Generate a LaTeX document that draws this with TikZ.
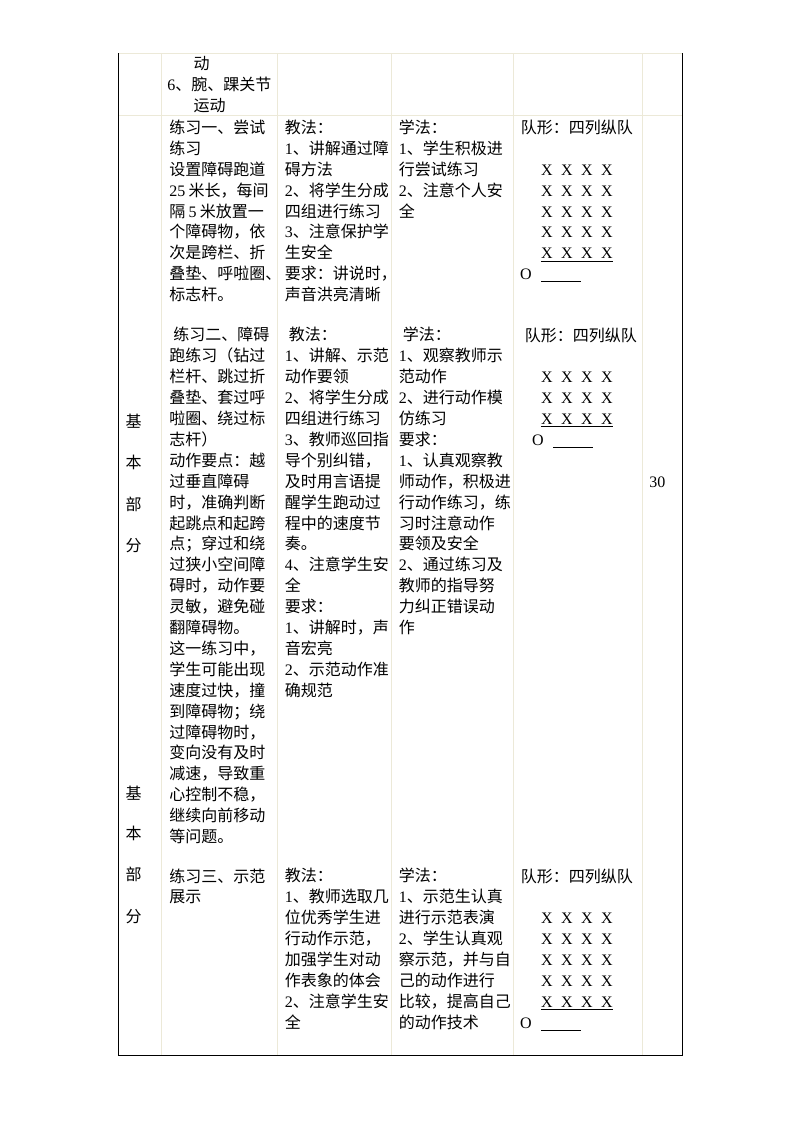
\documentclass[tikz,border=0pt]{standalone}
\usepackage{fontspec}
\setmainfont{Noto Sans CJK SC}
\newfontfamily\tnr{Liberation Serif}
\newcommand\tn[1]{{\tnr #1}}
\definecolor{gridline}{RGB}{236,233,216}
\tikzset{
  cell/.style={anchor=base west,inner sep=0pt,align=left,font=\fontsize{12}{15.68}\selectfont},
  man/.style={anchor=base,inner sep=0pt,font=\tnr\fontsize{12}{15.68}\selectfont},
  grid rule/.style={draw=gridline,line width=0.75pt},
  border rule/.style={draw=black,line width=0.75pt},
  mark line/.style={draw=black,line width=0.6pt},
}
\begin{document}
\begin{tikzpicture}[x=0.75pt,y=-0.75pt]
		\useasboundingbox (0,0) rectangle (794,1123);
		% table rules
		\draw[grid rule] (118,53.5)--(682,53.5) (118,116)--(682,116);
		\foreach \xx in {161.5,277.5,391.5,513,642.5}{\draw[grid rule] (\xx,53.5)--(\xx,1055);}
		\draw[border rule] (118,53.5)--(118,1055)--(682,1055)--(682,53.5);
		% first column
		\foreach \ch/\yy [count=\i] in {基/427.7,本/468.7,部/510,分/551,基/799.3,本/839.3,部/880,分/922}
			{\node[cell,anchor=base] (part-\i) at (133.5,\yy) {\ch};}
		% multi-line cells are placed by the baseline of their last line
		% warm-up tail
		\node[cell] (warmup) at (167,{69.5+2*20.9}) {\hspace*{19.7pt}动\\\tn{6}、腕、踝关节\\\hspace*{19.7pt}运动};
		% exercise one
		\node[cell] (ex1) at (169,{133.5+8*20.9}) {练习一、尝试\\练习\\设置障碍跑道\\\tn{25}\hspace{2.5pt}米长，每间\\隔\hspace{2.5pt}\tn{5}\hspace{2.5pt}米放置一\\个障碍物，依\\次是跨栏、折\\叠垫、呼啦圈、\\标志杆。};
		\node[cell] (teach1) at (284.5,{133.5+8*20.9}) {教法：\\\tn{1}、讲解通过障\\碍方法\\\tn{2}、将学生分成\\四组进行练习\\\tn{3}、注意保护学\\生安全\\要求：讲说时，\\声音洪亮清晰};
		\node[cell] (learn1) at (398.5,{133.5+4*20.9}) {学法：\\\tn{1}、学生积极进\\行尝试练习\\\tn{2}、注意个人安\\全};
		\node[cell] (form1) at (520.5,133.5) {队形：四列纵队};
		% exercise two
		\node[cell] (ex2) at (169,{341+24*20.9}) {\hspace*{3pt}练习二、障碍\\跑练习（钻过\\栏杆、跳过折\\叠垫、套过呼\\啦圈、绕过标\\志杆）\\动作要点：越\\过垂直障碍\\时，准确判断\\起跳点和起跨\\点；穿过和绕\\过狭小空间障\\碍时，动作要\\灵敏，避免碰\\翻障碍物。\\这一练习中，\\学生可能出现\\速度过快，撞\\到障碍物；绕\\过障碍物时，\\变向没有及时\\减速，导致重\\心控制不稳，\\继续向前移动\\等问题。};
		\node[cell] (teach2) at (284.5,{341+17*20.9}) {\hspace*{3pt}教法：\\\tn{1}、讲解、示范\\动作要领\\\tn{2}、将学生分成\\四组进行练习\\\tn{3}、教师巡回指\\导个别纠错，\\及时用言语提\\醒学生跑动过\\程中的速度节\\奏。\\\tn{4}、注意学生安\\全\\要求：\\\tn{1}、讲解时，声\\音宏亮\\\tn{2}、示范动作准\\确规范};
		\node[cell] (learn2) at (398.5,{341+14*20.9}) {\hspace*{3pt}学法：\\\tn{1}、观察教师示\\范动作\\\tn{2}、进行动作模\\仿练习\\要求：\\\tn{1}、认真观察教\\师动作，积极进\\行动作练习，练\\习时注意动作\\要领及安全\\\tn{2}、通过练习及\\教师的指导努\\力纠正错误动\\作};
		\node[cell] (form2) at (520.5,341) {\hspace*{3pt}队形：四列纵队};
		\node[man,anchor=base west] (time) at (649,487.3) {30};
		% exercise three
		\node[cell] (ex3) at (169,{882+20.9}) {练习三、示范\\展示};
		\node[cell] (teach3) at (284.5,{882+7*20.9}) {教法：\\\tn{1}、教师选取几\\位优秀学生进\\行动作示范，\\加强学生对动\\作表象的体会\\\tn{2}、注意学生安\\全};
		\node[cell] (learn3) at (398.5,{882+7*20.9}) {学法：\\\tn{1}、示范生认真\\进行示范表演\\\tn{2}、学生认真观\\察示范，并与自\\己的动作进行\\比较，提高自己\\的动作技术};
		\node[cell] (form3) at (520.5,882) {队形：四列纵队};
		% formations
		\foreach \grp/\top/\rows in {a/175.3/5,b/382.8/3,c/923.8/5}{
			\foreach \r in {1,...,\rows}{
				\foreach \c in {0,...,3}{\node[man] (x\grp-\r-\c) at (547+20*\c,\top+20.9*\r-20.9) {X};}
			}
			\draw[mark line] ([yshift=-1.5pt]x\grp-\rows-0.base west)--([yshift=-1.5pt]x\grp-\rows-3.base east);
		}
		\node[man] (oa) at (526,279.8) {O};
		\node[man] (ob) at (538,445.5) {O};
		\node[man] (oc) at (526,1028.3) {O};
		\foreach \o in {oa,ob,oc}{\draw[mark line] ([shift={(9,2)}]\o.base east)--++(40,0);}
		\end{tikzpicture}
\end{document}
